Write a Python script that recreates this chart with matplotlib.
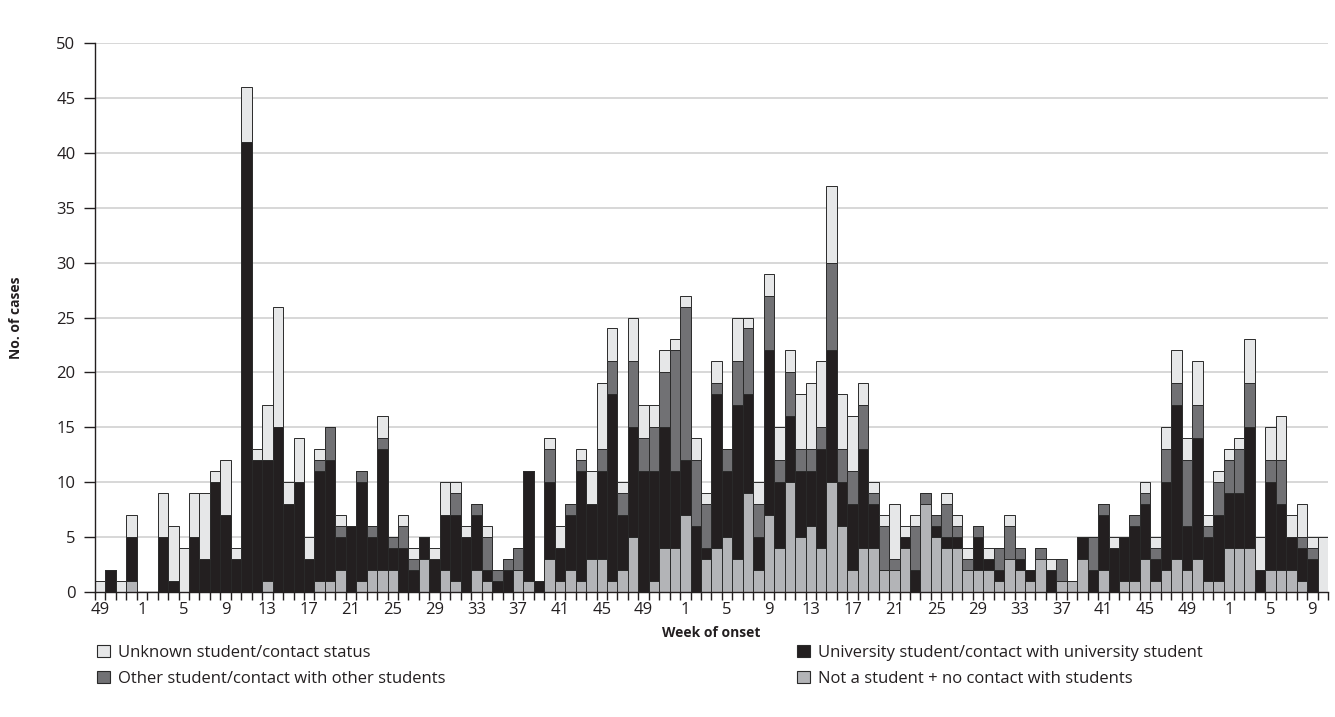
import matplotlib
matplotlib.use("Agg")
import matplotlib.pyplot as plt
from matplotlib.patches import Patch
import numpy as np

plt.rcParams['font.family'] = ['Open Sans', 'DejaVu Sans']

weeks = [49, 50, 51, 52] + list(range(1, 53)) + list(range(1, 53)) + list(range(1, 11))

not_student = [0,0,0,1,0,0,0,0,0,0,0,0,0,0,0,0,1,0,0,0,
               0,1,1,2,0,1,2,2,2,0,0,3,0,2,1,0,2,1,0,0,
               2,1,0,3,1,2,1,3,3,1,2,5,0,1,4,4,7,0,3,4,
               5,3,9,2,7,4,10,5,6,4,10,6,2,4,4,2,2,4,0,8,
               5,4,4,2,2,2,1,3,2,1,3,0,1,1,3,0,2,0,1,1,
               3,1,2,3,2,3,1,1,4,4,4,0,2,2,2,1,0,0]
university = [0,2,0,4,0,0,5,1,0,5,3,10,7,3,41,12,11,15,8,10,
              3,10,11,3,6,9,3,11,2,4,2,2,3,5,6,5,5,1,1,2,
              0,10,1,7,3,5,10,5,8,17,5,10,11,10,11,7,5,6,1,14,
              6,14,9,3,15,6,6,6,5,9,12,4,6,9,4,0,0,1,2,0,
              1,1,1,0,3,1,1,0,1,1,0,2,0,0,2,2,5,4,4,5,
              5,2,8,14,4,11,4,6,5,5,11,2,8,6,3,3,3,0]
other_student = [0,0,0,0,0,0,0,0,0,0,0,0,0,0,0,0,0,0,0,0,
                 0,1,3,1,0,1,1,1,1,2,1,0,0,0,2,0,1,3,1,1,
                 2,0,0,3,0,1,1,0,2,3,2,6,3,4,5,11,14,6,4,1,
                 2,4,6,3,5,2,4,2,2,2,8,3,3,4,1,4,1,0,4,1,
                 1,3,1,1,1,0,2,3,1,0,1,0,2,0,0,3,1,0,0,1,
                 1,1,3,2,6,3,1,3,3,4,4,0,2,4,0,1,1,0]
unknown = [1,0,1,2,0,0,4,5,4,4,6,1,5,1,5,1,5,11,2,4,
           2,1,0,1,0,0,0,2,0,1,1,0,1,3,1,1,0,1,0,0,
           0,0,0,1,2,0,1,3,6,3,1,4,3,2,2,1,1,2,1,2,
           0,4,1,2,2,3,2,5,6,6,7,5,5,2,1,1,5,1,1,0,
           0,1,1,1,0,1,0,1,0,0,0,1,0,0,0,0,0,1,0,0,
           1,1,2,3,2,4,1,1,1,1,4,3,3,4,2,3,1,5]

labels = ["Unknown student/contact status",
          "Other student/contact with other students",
          "University student/contact with university student",
          "Not a student + no contact with students"]
colors = {"unk": "#e6e7e8", "oth": "#717174", "uni": "#231f20", "ns": "#b3b4b7"}

fig = plt.figure(figsize=(13.35, 7.17), dpi=100)
ax = fig.add_axes([95/1335, 1-592/717, (1328-95)/1335, (592-43)/717])

x = np.arange(len(weeks))
ns = np.array(not_student)
uni = np.array(university)
oth = np.array(other_student)
unk = np.array(unknown)
ec = "#2a2a2a"
lw = 0.7
ax.bar(x, ns, width=1.0, color=colors["ns"], edgecolor=ec, linewidth=lw, zorder=3)
ax.bar(x, uni, width=1.0, bottom=ns, color=colors["uni"], edgecolor=ec, linewidth=lw, zorder=3)
ax.bar(x, oth, width=1.0, bottom=ns+uni, color=colors["oth"], edgecolor=ec, linewidth=lw, zorder=3)
ax.bar(x, unk, width=1.0, bottom=ns+uni+oth, color=colors["unk"], edgecolor=ec, linewidth=lw, zorder=3)

ax.set_xlim(-0.5, len(weeks) - 0.5)
ax.set_ylim(0, 50)
ax.set_yticks(np.arange(0, 51, 5))
ax.yaxis.grid(True, color="#d4d4d4", linewidth=1.3, zorder=0)
ax.set_axisbelow(True)
for s in ["top", "right"]:
    ax.spines[s].set_visible(False)
for s in ["left", "bottom"]:
    ax.spines[s].set_color("#231f20")
    ax.spines[s].set_linewidth(1.0)
    ax.spines[s].set_zorder(5)

ax.set_xticks(x[::4])
ax.set_xticklabels([str(w) for w in weeks[::4]])
ax.set_xticks(np.arange(-0.5, len(weeks), 1.0), minor=True)
ax.tick_params(axis="x", which="major", length=0, pad=7, labelsize=12, colors="#231f20")
ax.tick_params(axis="x", which="minor", length=6, width=1.0, direction="out", color="#231f20")
ax.tick_params(axis="y", which="major", length=8, width=1.0, direction="out", labelsize=12, colors="#231f20", pad=6)

ax.set_xlabel("Week of onset", fontsize=10, fontweight="bold", labelpad=6, color="#231f20")
ax.set_ylabel("No. of cases", fontsize=10, fontweight="bold", labelpad=24, color="#231f20")

handles = [Patch(facecolor=colors["unk"], edgecolor=ec, linewidth=0.8),
           Patch(facecolor=colors["oth"], edgecolor=ec, linewidth=0.8),
           Patch(facecolor=colors["uni"], edgecolor=ec, linewidth=0.8),
           Patch(facecolor=colors["ns"], edgecolor=ec, linewidth=0.8)]
leg_kw = dict(frameon=False, fontsize=12, handlelength=0.75, handleheight=0.75,
              handletextpad=0.5, labelspacing=0.6, borderaxespad=0, borderpad=0)
leg1 = fig.legend(handles[:2], labels[:2], loc="upper left",
                  bbox_to_anchor=(97/1335, 1-645/717), **leg_kw)
leg2 = fig.legend(handles[2:], labels[2:], loc="upper left",
                  bbox_to_anchor=(797/1335, 1-645/717), **leg_kw)
for leg in (leg1, leg2):
    for t in leg.get_texts():
        t.set_color("#231f20")

fig.savefig("out.png", dpi=100)
